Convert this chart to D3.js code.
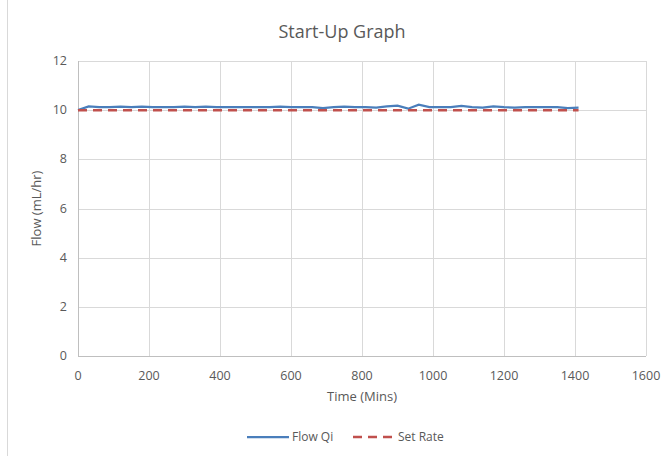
<!DOCTYPE html>
<html>
<head>
<meta charset="utf-8">
<script src="https://cdn.jsdelivr.net/npm/d3@7"></script>
<style>
  body { margin: 0; background: #fff; }
  svg text { font-family: "Open Sans", "Noto Sans", sans-serif; fill: #595959; }
</style>
</head>
<body>
<script>
// chart data
const times = [0, 30, 60, 90, 120, 150, 180, 210, 240, 270, 300, 330, 360, 390, 420, 450,
  480, 510, 540, 570, 600, 630, 660, 690, 720, 750, 780, 810, 840, 870, 900, 930,
  960, 990, 1020, 1050, 1080, 1110, 1140, 1170, 1200, 1230, 1260, 1290, 1320, 1350, 1380, 1410];
const flowQi = [10.0, 10.15, 10.12, 10.12, 10.14, 10.12, 10.14, 10.12, 10.12, 10.12, 10.14, 10.12,
  10.14, 10.12, 10.12, 10.12, 10.12, 10.12, 10.12, 10.14, 10.12, 10.12, 10.12, 10.08,
  10.12, 10.14, 10.12, 10.12, 10.1, 10.15, 10.18, 10.06, 10.22, 10.12, 10.12, 10.12,
  10.17, 10.12, 10.1, 10.15, 10.12, 10.1, 10.12, 10.12, 10.12, 10.12, 10.08, 10.1];
const setRate = times.map(() => 10);
const xTicks = [0, 200, 400, 600, 800, 1000, 1200, 1400, 1600];
const yTicks = [0, 2, 4, 6, 8, 10, 12];

const width = 667, height = 456;
const plotLeft = 78, plotRight = 646, plotTop = 61, plotBottom = 356;

let svg = d3.select("body").append("svg")
    .attr("width", width)
    .attr("height", height);

// outer chart border
svg.append("line")
    .attr("x1", 7.5).attr("x2", 7.5)
    .attr("y1", 0).attr("y2", height)
    .attr("stroke", "#d9d9d9");

let x = d3.scaleLinear().domain([0, 1600]).range([plotLeft, plotRight]);
let y = d3.scaleLinear().domain([0, 12]).range([plotBottom, plotTop]);

// gridlines
svg.append("g")
  .selectAll("line")
  .data(yTicks.filter(d => d > 0))
  .enter().append("line")
    .attr("x1", plotLeft).attr("x2", plotRight)
    .attr("y1", d => Math.round(y(d)) + 0.5).attr("y2", d => Math.round(y(d)) + 0.5)
    .attr("stroke", "#d9d9d9");

svg.append("g")
  .selectAll("line")
  .data(xTicks.filter(d => d > 0))
  .enter().append("line")
    .attr("x1", d => Math.round(x(d)) + 0.5).attr("x2", d => Math.round(x(d)) + 0.5)
    .attr("y1", plotTop).attr("y2", plotBottom)
    .attr("stroke", "#d9d9d9");

// axes lines
svg.append("line")
    .attr("x1", plotLeft).attr("x2", plotRight)
    .attr("y1", plotBottom + 0.5).attr("y2", plotBottom + 0.5)
    .attr("stroke", "#bfbfbf");
svg.append("line")
    .attr("x1", plotLeft + 0.5).attr("x2", plotLeft + 0.5)
    .attr("y1", plotTop).attr("y2", plotBottom)
    .attr("stroke", "#bfbfbf");

// tick labels
svg.append("g")
  .selectAll("text")
  .data(xTicks)
  .enter().append("text")
    .attr("x", d => x(d))
    .attr("y", plotBottom + 24)
    .attr("text-anchor", "middle")
    .attr("font-size", 12.5)
    .text(d => d);

svg.append("g")
  .selectAll("text")
  .data(yTicks)
  .enter().append("text")
    .attr("x", plotLeft - 11)
    .attr("y", d => y(d) + 4)
    .attr("text-anchor", "end")
    .attr("font-size", 12.5)
    .text(d => d);

// axis titles
svg.append("text")
    .attr("x", (plotLeft + plotRight) / 2)
    .attr("y", 401)
    .attr("text-anchor", "middle")
    .attr("font-size", 13)
    .text("Time (Mins)");

svg.append("text")
    .attr("transform", "translate(41," + ((plotTop + plotBottom) / 2) + ") rotate(-90)")
    .attr("text-anchor", "middle")
    .attr("font-size", 13)
    .text("Flow (mL/hr)");

svg.append("text")
    .attr("x", 342)
    .attr("y", 38)
    .attr("text-anchor", "middle")
    .attr("font-size", 18)
    .text("Start-Up Graph");

// lines
let line = d3.line()
    .x((d, i) => x(times[i]))
    .y(d => y(d));

svg.append("path")
    .datum(flowQi)
    .attr("d", line)
    .attr("fill", "none")
    .attr("stroke", "#4a7ebb")
    .attr("stroke-width", 2.25);

svg.append("path")
    .datum(setRate)
    .attr("d", line)
    .attr("fill", "none")
    .attr("stroke", "#c0504d")
    .attr("stroke-width", 2.5)
    .attr("stroke-dasharray", "9,6");

// legend
let legend = svg.append("g");
legend.append("line")
    .attr("x1", 247).attr("x2", 289).attr("y1", 437).attr("y2", 437)
    .attr("stroke", "#4a7ebb").attr("stroke-width", 2.25);
legend.append("text")
    .attr("x", 292).attr("y", 441).attr("font-size", 12).text("Flow Qi");
legend.append("line")
    .attr("x1", 353).attr("x2", 394).attr("y1", 437).attr("y2", 437)
    .attr("stroke", "#c0504d").attr("stroke-width", 2.5)
    .attr("stroke-dasharray", "9,6");
legend.append("text")
    .attr("x", 398).attr("y", 441).attr("font-size", 12).text("Set Rate");
</script>
</body>
</html>
